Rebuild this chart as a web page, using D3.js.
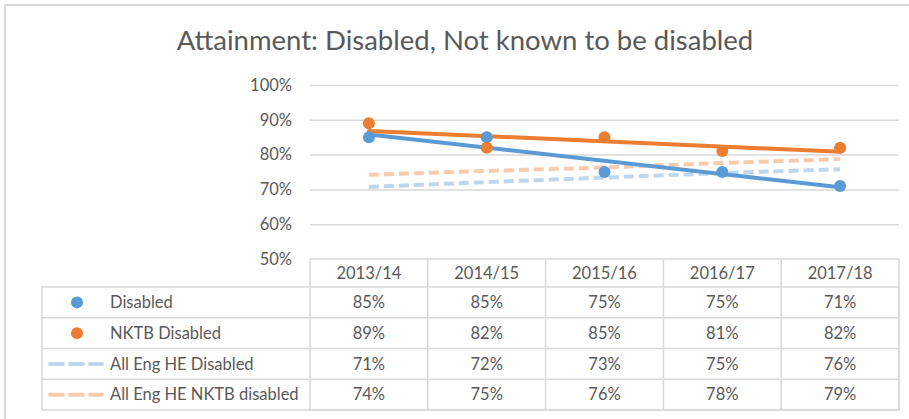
<!DOCTYPE html>
<html>
<head>
<meta charset="utf-8">
<script src="https://cdn.jsdelivr.net/npm/d3@7"></script>
<style>
  body { margin: 0; background: #fff; }
  svg { display: block; font-family: Lato, "Open Sans", sans-serif; }
</style>
</head>
<body>
<svg id="chart" width="909" height="419"></svg>
<script>
// categories
const years = ["2013/14", "2014/15", "2015/16", "2016/17", "2017/18"];

// series values (share of students)
const disabled = [0.85, 0.85, 0.75, 0.75, 0.71];
const nktbDisabled = [0.89, 0.82, 0.85, 0.81, 0.82];
const allEngDisabled = [0.707, 0.721, 0.734, 0.747, 0.758];
const allEngNktb = [0.742, 0.753, 0.763, 0.776, 0.787];

const yTicks = [0.5, 0.6, 0.7, 0.8, 0.9, 1.0];

const w = 909, h = 419;
const textCol = "#595959", gridCol = "#D9D9D9";
const fs = "16.5px";

//series table (for legend rows + markers)
const series = [
	{ name: "Disabled", values: disabled, color: "#5B9BD5", kind: "dot" },
	{ name: "NKTB Disabled", values: nktbDisabled, color: "#ED7D31", kind: "dot" },
	{ name: "All Eng HE Disabled", values: allEngDisabled, color: "#BDD7EE", kind: "dash" },
	{ name: "All Eng HE NKTB disabled", values: allEngNktb, color: "#F8CBAD", kind: "dash" }
];

let svg = d3.select("#chart");

//outer frame: top and left edge only
svg.append("path")
	.attr("d", `M5,${h} V5 H${w}`)
	.attr("fill", "none")
	.attr("stroke", gridCol)
	.attr("stroke-width", 2);

svg.append("text")
	.attr("x", 465).attr("y", 50)
	.attr("text-anchor", "middle")
	.attr("fill", textCol)
	.style("font-size", "27.5px")
	.text("Attainment: Disabled, Not known to be disabled");

const x = d3.scaleBand().domain(years).range([310, 899]);
const y = d3.scaleLinear().domain([0.5, 1]).range([259, 85]);

//gridlines + y labels
let yAxis = svg.append("g")
	.attr("transform", "translate(310,0)")
	.call(d3.axisLeft(y).tickValues(yTicks).tickFormat(d3.format(".0%")).tickSize(-589).tickPadding(18));
yAxis.select(".domain").remove();
yAxis.selectAll(".tick line").attr("stroke", gridCol).attr("stroke-width", 1.5)
	.filter(d => d === 0.5).remove();
yAxis.selectAll(".tick text").attr("fill", textCol).style("font-size", fs).style("font-family", "Lato, sans-serif");

const cx = i => x(years[i]) + x.bandwidth() / 2;

//least squares trendline over the category index
function trend(vals) {
	const n = vals.length;
	const xs = d3.range(n);
	const mx = d3.mean(xs), my = d3.mean(vals);
	const slope = d3.sum(xs, i => (i - mx) * (vals[i] - my)) / d3.sum(xs, i => (i - mx) ** 2);
	return [0, n - 1].map(i => [i, my + slope * (i - mx)]);
}

const line = d3.line().x(d => cx(d[0])).y(d => y(d[1]));

//dashed comparison lines
series.filter(s => s.kind === "dash").forEach(s => {
	svg.append("path")
		.datum(s.values.map((v, i) => [i, v]))
		.attr("d", line)
		.attr("fill", "none")
		.attr("stroke", s.color)
		.attr("stroke-width", 4)
		.attr("stroke-dasharray", "10,5");
});

//solid trendlines
series.filter(s => s.kind === "dot").forEach(s => {
	svg.append("path")
		.datum(trend(s.values))
		.attr("d", line)
		.attr("fill", "none")
		.attr("stroke", s.color)
		.attr("stroke-width", 4)
		.attr("stroke-linecap", "round");
});

//markers
series.filter(s => s.kind === "dot").forEach(s => {
	svg.append("g").selectAll("circle")
		.data(s.values)
		.join("circle")
		.attr("cx", (d, i) => cx(i))
		.attr("cy", d => y(d))
		.attr("r", 6)
		.attr("fill", s.color);
});

/*
	data table under the plot
*/
const tableTop = 259, headerH = 28, rowH = 30.75, legendLeft = 42;
const rowY = i => tableTop + headerH + i * rowH;
const bottom = rowY(series.length);

let table = svg.append("g").attr("class", "data-table");

table.append("rect")
	.attr("x", 310).attr("y", tableTop)
	.attr("width", 589).attr("height", bottom - tableTop)
	.attr("fill", "none").attr("stroke", gridCol).attr("stroke-width", 1.5);
table.append("rect")
	.attr("x", legendLeft).attr("y", rowY(0))
	.attr("width", 899 - legendLeft).attr("height", bottom - rowY(0))
	.attr("fill", "none").attr("stroke", gridCol).attr("stroke-width", 1.5);

//column lines
table.selectAll(".col-line")
	.data(years.slice(1))
	.join("line")
	.attr("x1", d => x(d)).attr("x2", d => x(d))
	.attr("y1", tableTop).attr("y2", bottom)
	.attr("stroke", gridCol).attr("stroke-width", 1.5);

//row lines
table.selectAll(".row-line")
	.data(d3.range(1, series.length))
	.join("line")
	.attr("x1", legendLeft).attr("x2", 899)
	.attr("y1", d => rowY(d)).attr("y2", d => rowY(d))
	.attr("stroke", gridCol).attr("stroke-width", 1.5);

table.selectAll(".year-label")
	.data(years)
	.join("text")
	.attr("x", d => x(d) + x.bandwidth() / 2)
	.attr("y", tableTop + headerH / 2)
	.attr("dy", "0.35em")
	.attr("text-anchor", "middle")
	.attr("fill", textCol)
	.style("font-size", fs)
	.text(d => d);

series.forEach((s, r) => {
	const my = rowY(r) + rowH / 2;
	if (s.kind === "dot") {
		table.append("circle").attr("cx", 77).attr("cy", my).attr("r", 6).attr("fill", s.color);
	} else {
		table.append("line")
			.attr("x1", 50).attr("x2", 102).attr("y1", my).attr("y2", my)
			.attr("stroke", s.color).attr("stroke-width", 4)
			.attr("stroke-dasharray", "13,7").attr("stroke-linecap", "round");
	}
	table.append("text")
		.attr("x", 110).attr("y", my).attr("dy", "0.35em")
		.attr("fill", textCol).style("font-size", fs)
		.text(s.name);
	table.selectAll(null)
		.data(s.values)
		.join("text")
		.attr("x", (d, i) => cx(i))
		.attr("y", my).attr("dy", "0.35em")
		.attr("text-anchor", "middle")
		.attr("fill", textCol).style("font-size", fs)
		.text(d => d3.format(".0%")(d));
});
</script>
</body>
</html>
